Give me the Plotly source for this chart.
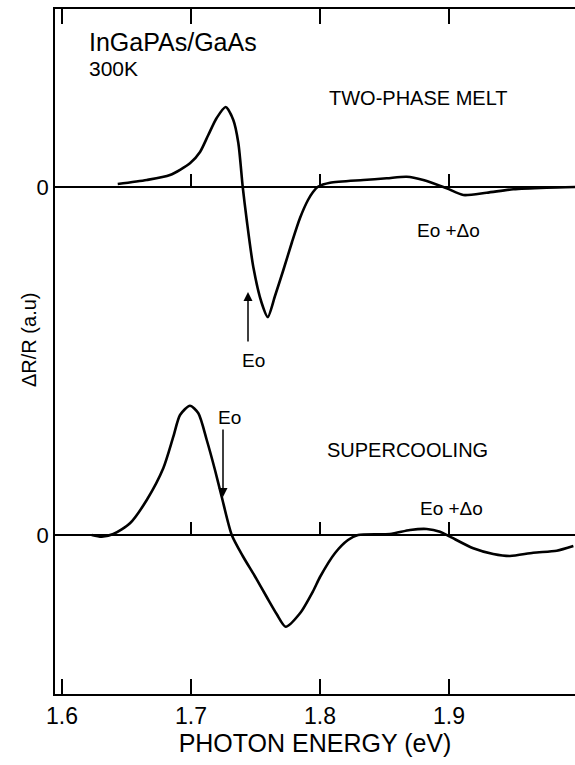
import plotly.graph_objects as go

# ---- data (photon energy in eV, dR/R in arbitrary units) ----
melt_energy = [1.6432, 1.6657, 1.6837, 1.6992, 1.7070, 1.7134, 1.7199, 1.7269, 1.7328, 1.7367,
               1.7401, 1.7432, 1.7483, 1.7548, 1.7595, 1.7651, 1.7716, 1.7783, 1.7845, 1.7907,
               1.7946, 1.7987, 1.8078, 1.8336, 1.8517, 1.8672, 1.8801, 1.8982, 1.9111, 1.9292,
               1.9498, 1.9757, 1.9977]
melt_dr = [3, 7, 12, 23.7, 35, 52, 69, 80, 67, 44,
           0, -33, -80, -116, -130, -109, -83, -55, -31, -13,
           -5, 0.5, 4.3, 7, 8.7, 10.3, 7, -1.3, -8, -5.7,
           -2.3, -0.7, 0]

super_energy = [1.6230, 1.6308, 1.6398, 1.6527, 1.6657, 1.6785, 1.6863, 1.6915, 1.6992, 1.7057,
                1.7122, 1.7186, 1.7238, 1.7316, 1.7401, 1.7494, 1.7587, 1.7664, 1.7734, 1.7845,
                1.7947, 1.8000, 1.8117, 1.8217, 1.8295, 1.8543, 1.8698, 1.8827, 1.8930, 1.9008,
                1.9188, 1.9343, 1.9473, 1.9653, 1.9835, 1.9964]
super_dr = [0, -1.7, 1, 11.7, 35, 66.7, 98.3, 120, 129.3, 121.7,
            95, 65, 38.3, 0, -21, -41, -62, -79, -91.7, -78.3,
            -56, -42, -18, -5, 0, 1, 5, 6, 3.3, -1.7,
            -13.3, -19, -21, -17.7, -15.7, -11]

x_ticks = [1.6, 1.7, 1.8, 1.9]
x_ticklabels = ["1.6", "1.7", "1.8", "1.9"]
zero_ticks = [1.7, 1.8, 1.9]

# vertical offsets of the two spectra (a.u.)
melt_offset = 507
super_offset = 159
y_max = 685

FONT = "Liberation Sans"
x_range = [1.7 - 136 / 1290, 1.7 + 384 / 1290]

fig = go.Figure()
fig.add_trace(go.Scatter(x=melt_energy, y=[v + melt_offset for v in melt_dr], mode="lines",
                         line=dict(color="black", width=2.6, shape="spline", smoothing=0.7),
                         showlegend=False, hoverinfo="skip"))
fig.add_trace(go.Scatter(x=super_energy, y=[v + super_offset for v in super_dr], mode="lines",
                         line=dict(color="black", width=2.6, shape="spline", smoothing=0.7),
                         showlegend=False, hoverinfo="skip"))

zero_axis = dict(overlaying="x", matches="x", anchor="free", side="bottom",
                 showline=True, linecolor="black", linewidth=1.5,
                 ticks="inside", tickvals=zero_ticks, ticklen=12, tickwidth=1.5, tickcolor="black",
                 showticklabels=False, showgrid=False, zeroline=False)

fig.update_layout(
    width=575, height=765,
    margin=dict(l=55, r=0, t=9, b=71),
    paper_bgcolor="white", plot_bgcolor="white",
    font=dict(family=FONT, color="black"),
    xaxis=dict(range=x_range, showline=True, linecolor="black", linewidth=1.8, mirror="ticks",
               ticks="inside", tickvals=x_ticks, ticktext=x_ticklabels, ticklen=15, tickwidth=1.5,
               tickcolor="black", tickfont=dict(size=23, family=FONT), showgrid=False, zeroline=False,
               title=dict(text="PHOTON ENERGY (eV)", font=dict(size=25, family=FONT), standoff=4)),
    xaxis2=dict(zero_axis, position=melt_offset / y_max),
    xaxis3=dict(zero_axis, position=super_offset / y_max),
    yaxis=dict(range=[0, y_max], showline=True, linecolor="black", linewidth=1.8,
               ticks="", tickvals=[super_offset, melt_offset], ticktext=["0", "0"],
               tickfont=dict(size=22, family=FONT), showgrid=False, zeroline=False),
)

# dummy traces so the zero-line axes render
fig.add_trace(go.Scatter(x=[x_range[0]], y=[None], xaxis="x2", showlegend=False, hoverinfo="skip"))
fig.add_trace(go.Scatter(x=[x_range[0]], y=[None], xaxis="x3", showlegend=False, hoverinfo="skip"))

def px2e(px):
    return 1.7 + (px - 191) / 1290

def py2y(py):
    return 694 - py

texts = [
    ("InGaPAs/GaAs", 87, 42, 25, "left"),
    ("300K", 87, 68, 21, "left"),
    ("TWO-PHASE MELT", 327, 98, 20, "left"),
    ("Eo +Δo", 415, 230, 19, "left"),
    ("Eo", 253, 360, 19, "center"),
    ("SUPERCOOLING", 325, 450, 20, "left"),
    ("Eo +Δo", 418, 508, 19, "left"),
    ("Eo", 229, 417, 19, "center"),
]
for t, px, py, sz, anc in texts:
    fig.add_annotation(x=px2e(px), y=py2y(py), text=t, showarrow=False, xanchor=anc, yanchor="middle",
                       font=dict(size=sz, family=FONT, color="black"))

# arrows marking Eo
for (px, tail, tip) in [(248, 343, 292), (223, 428, 497)]:
    fig.add_annotation(x=px2e(px), y=py2y(tip), ax=px2e(px), ay=py2y(tail), axref="x", ayref="y",
                       text="", showarrow=True, arrowhead=2, arrowsize=1.2, arrowwidth=1.5,
                       arrowcolor="black")

fig.add_annotation(xref="paper", yref="paper", x=-55 / 520 + 29 / 520, y=(694 - 340) / 685,
                   text="ΔR/R (a.u)", textangle=-90, showarrow=False, xanchor="center", yanchor="middle",
                   font=dict(size=20, family=FONT, color="black"))

fig.write_html("out.html")
